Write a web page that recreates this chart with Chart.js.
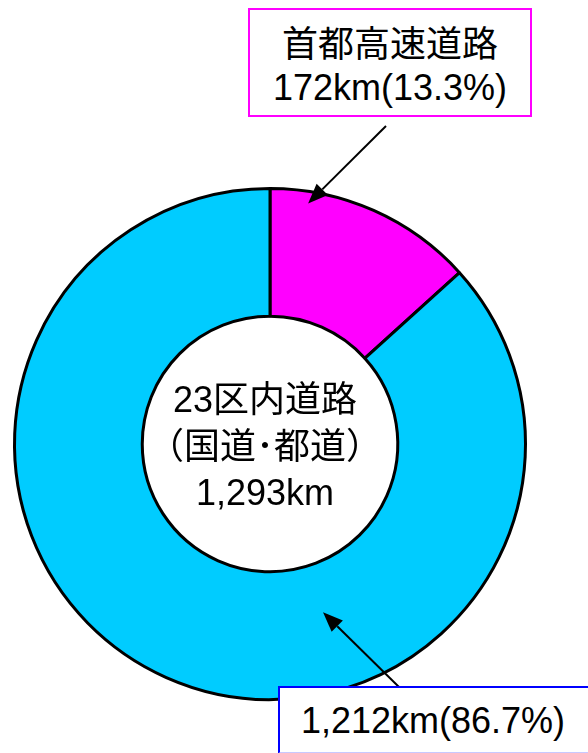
<!DOCTYPE html>
<html lang="ja">
<head>
<meta charset="utf-8">
<script src="https://cdn.jsdelivr.net/npm/chart.js@4"></script>
<style>
  html, body { margin:0; padding:0; background:#fff; }
  #wrap { position:relative; width:588px; height:753px; overflow:hidden; }
  #wrap canvas { position:absolute; left:0; top:0; }
  .txt { position:absolute; font-family:"Liberation Sans", Arial, "Noto Sans CJK JP", sans-serif; color:#000; text-align:center; white-space:nowrap; }
  #boxTop { position:absolute; left:248px; top:8px; width:280px; height:105px; border:2px solid #ff00ff; background:#fff; }
  #boxBot { position:absolute; left:278px; top:686px; width:330px; height:64px; border:2px solid #0000ff; border-bottom:2px solid #c8c8ff; background:#fff; }
</style>
</head>
<body>
<div id="wrap">
  <canvas id="c" width="588" height="753"></canvas>
  <div id="boxTop"></div>
  <div id="boxBot"></div>
  <div class="txt" id="lblTop1" style="left:248px; width:284px; top:24px; font-size:36px; line-height:42px;"></div>
  <div class="txt" id="lblTop2" style="left:248px; width:284px; top:67px; font-size:36px; line-height:42px;"></div>
  <div class="txt" id="lblBot" style="left:278px; width:310px; top:700px; font-size:36px; line-height:42px;"></div>
  <div class="txt" id="ctr1" style="left:140px; width:250px; top:379px; font-size:36px; line-height:42px;"></div>
  <div class="txt" id="ctr2" style="left:140px; width:250px; top:426px; font-size:36px; line-height:42px;"></div>
  <div class="txt" id="ctr3" style="left:140px; width:250px; top:472px; font-size:36px; line-height:42px;"></div>
</div>
<script>
// ---- data ----
const categories = ['首都高速道路', '23区内道路（国道･都道）'];
const sharePct = [13.3, 86.7];
const lengthLabels = ['172km(13.3%)', '1,212km(86.7%)'];
const centerLines = ['23区内道路', '（国道･都道）', '1,293km'];
const sliceColors = ['#ff00ff', '#00ccff'];

document.getElementById('lblTop1').textContent = categories[0];
document.getElementById('lblTop2').textContent = lengthLabels[0];
document.getElementById('lblBot').textContent = lengthLabels[1];
document.getElementById('ctr1').textContent = centerLines[0];
document.getElementById('ctr2').textContent = centerLines[1];
document.getElementById('ctr3').textContent = centerLines[2];

// arrows: tail fixed at label box, tip given in polar coords relative to the doughnut
function drawArrow(ctx, x1, y1, x2, y2) {
  const ang = Math.atan2(y2 - y1, x2 - x1);
  const hl = 20, hw = 8;
  const bx = x2 - hl * Math.cos(ang), by = y2 - hl * Math.sin(ang);
  ctx.save();
  ctx.strokeStyle = '#000'; ctx.fillStyle = '#000'; ctx.lineWidth = 2;
  ctx.beginPath(); ctx.moveTo(x1, y1); ctx.lineTo(bx, by); ctx.stroke();
  ctx.beginPath();
  ctx.moveTo(x2, y2);
  ctx.lineTo(bx + hw * Math.sin(ang), by - hw * Math.cos(ang));
  ctx.lineTo(bx - hw * Math.sin(ang), by + hw * Math.cos(ang));
  ctx.closePath(); ctx.fill();
  ctx.restore();
}
const arrowPlugin = {
  id: 'arrows',
  afterDraw(chart) {
    const arc = chart.getDatasetMeta(0).data[0];
    const cx = arc.x, cy = arc.y, R = arc.outerRadius;
    const pt = (deg, f) => [cx + R * f * Math.sin(deg * Math.PI / 180), cy - R * f * Math.cos(deg * Math.PI / 180)];
    const ctx = chart.ctx;
    const t1 = pt(9, 0.953);
    drawArrow(ctx, 386, 126, t1[0], t1[1]);
    const t2 = pt(162.5, 0.69);
    drawArrow(ctx, 400, 688, t2[0], t2[1]);
  }
};

new Chart(document.getElementById('c'), {
  type: 'doughnut',
  data: {
    labels: categories,
    datasets: [{
      data: sharePct,
      backgroundColor: sliceColors,
      borderColor: '#000',
      borderWidth: 3,
      hoverOffset: 0
    }]
  },
  options: {
    responsive: false,
    animation: false,
    cutout: '50%',
    layout: { padding: { left: 13, right: 61, top: 187, bottom: 52 } },
    plugins: { legend: { display: false }, tooltip: { enabled: false } }
  },
  plugins: [arrowPlugin]
});
</script>
</body>
</html>
